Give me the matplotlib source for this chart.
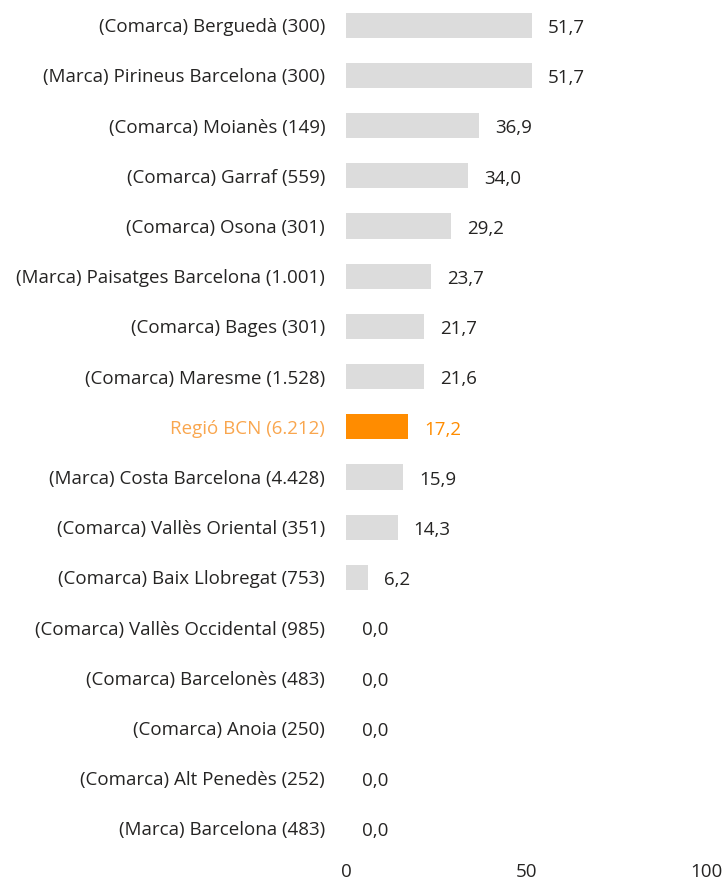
import matplotlib
matplotlib.use('Agg')
import matplotlib.pyplot as plt

plt.rcParams['font.family'] = ['Open Sans', 'DejaVu Sans']

CATEGORIES = [
    '(Comarca) Berguedà (300)',
    '(Marca) Pirineus Barcelona (300)',
    '(Comarca) Moianès (149)',
    '(Comarca) Garraf (559)',
    '(Comarca) Osona (301)',
    '(Marca) Paisatges Barcelona (1.001)',
    '(Comarca) Bages (301)',
    '(Comarca) Maresme (1.528)',
    'Regió BCN (6.212)',
    '(Marca) Costa Barcelona (4.428)',
    '(Comarca) Vallès Oriental (351)',
    '(Comarca) Baix Llobregat (753)',
    '(Comarca) Vallès Occidental (985)',
    '(Comarca) Barcelonès (483)',
    '(Comarca) Anoia (250)',
    '(Comarca) Alt Penedès (252)',
    '(Marca) Barcelona (483)',
]
VALUES = [51.7, 51.7, 36.9, 34.0, 29.2, 23.7, 21.7, 21.6, 17.2,
          15.9, 14.3, 6.2, 0.0, 0.0, 0.0, 0.0, 0.0]
HIGHLIGHT = 'Regió BCN (6.212)'
X_TICKS = [0, 50, 100]

GREY = '#dcdcdc'
ORANGE = '#ff8c00'
ORANGE_LABEL = '#f9a64e'
TEXT = '#252423'
FS = 13.5

fig = plt.figure(figsize=(7.28, 8.88), dpi=100)
ax = fig.add_axes([346 / 728, 1 - 853.6 / 888, 362 / 728, 853.6 / 888])

ypos = list(range(len(CATEGORIES)))
colors = [ORANGE if c == HIGHLIGHT else GREY for c in CATEGORIES]
ax.barh(ypos, VALUES, height=0.5, color=colors)

for y, v, c in zip(ypos, VALUES, CATEGORIES):
    col = ORANGE if c == HIGHLIGHT else TEXT
    ax.annotate(f'{v:.1f}'.replace('.', ','), xy=(v, y), xytext=(11.5, -2),
                textcoords='offset points', ha='left', va='center',
                fontsize=FS, color=col)

ax.set_xlim(0, 100.5)
ax.set_ylim(len(CATEGORIES) - 0.5, -0.5)
ax.set_yticks(ypos)
ax.set_yticklabels(CATEGORIES, fontsize=FS, color=TEXT)
for lbl in ax.get_yticklabels():
    if lbl.get_text() == HIGHLIGHT:
        lbl.set_color(ORANGE_LABEL)
ax.set_xticks(X_TICKS)
ax.set_xticklabels([str(t) for t in X_TICKS], fontsize=FS, color=TEXT)
ax.tick_params(axis='y', length=0, pad=15)
ax.tick_params(axis='x', length=0, pad=7)
for s in ax.spines.values():
    s.set_visible(False)

plt.savefig('out.png', dpi=100)
